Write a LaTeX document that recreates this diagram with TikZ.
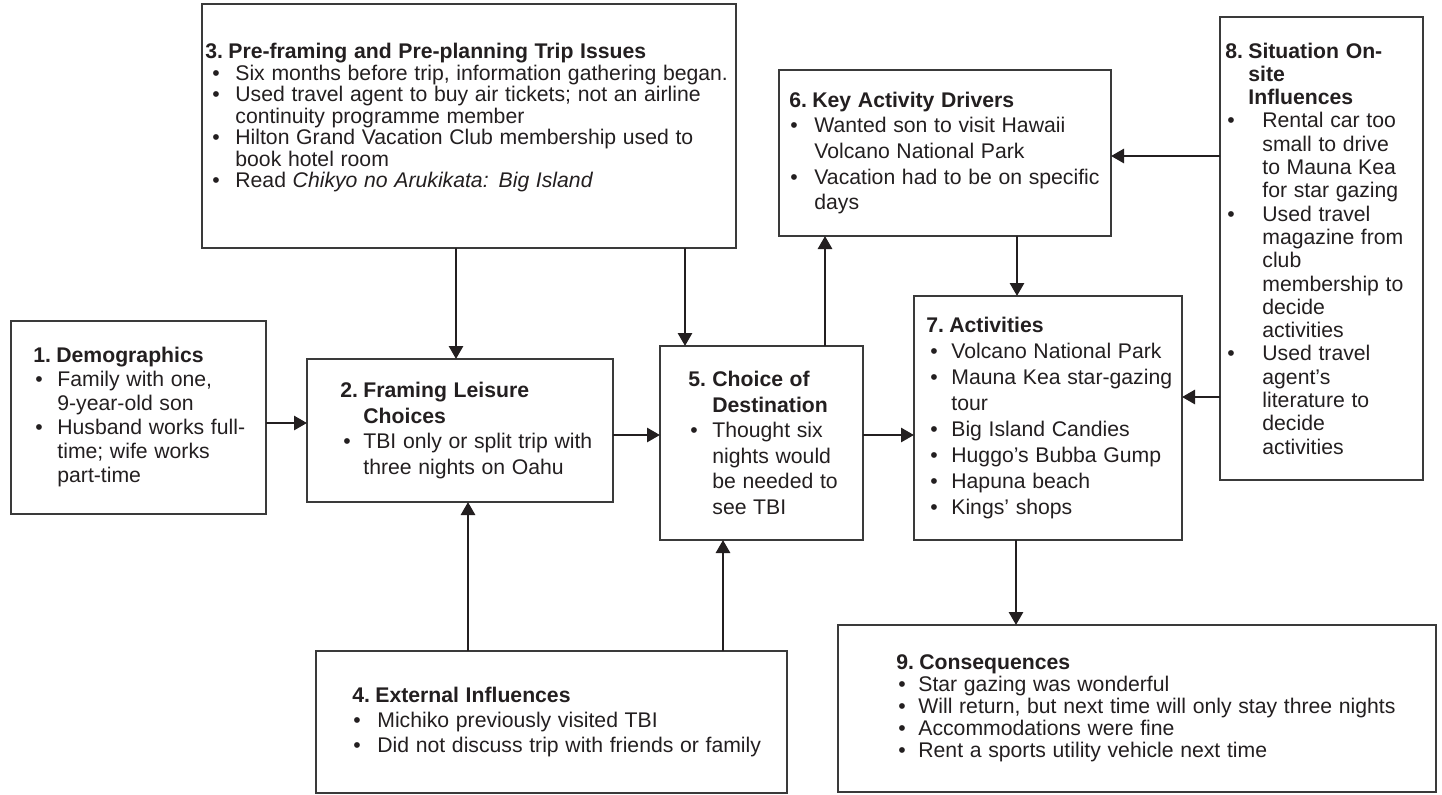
\documentclass[tikz,border=0pt]{standalone}
\usepackage{fontspec}
\setmainfont{Liberation Sans}
\usetikzlibrary{arrows.meta}

\definecolor{inkc}{HTML}{231F20}
\definecolor{framec}{HTML}{3A3A3A}

% list layout: bullet offset, text indent, title hang, line pitch
\newlength\bo \newlength\bt \newlength\ti
\newcommand\lay[4]{\setlength\bo{#1}\setlength\bt{#2}\setlength\ti{#3}\fontsize{10.6pt}{#4}\selectfont}
\newcommand\ttl[2]{\noindent\hangindent=\ti\hangafter=1\makebox[\ti][l]{\bfseries #1}{\bfseries #2}\par}
\newcommand\itm[1]{\noindent\hangindent=\bt\hangafter=1\makebox[\bt][l]{\hspace*{\bo}•}#1\par}

\begin{document}
\begin{tikzpicture}[x=0.5pt,y=-0.5pt,
  box/.style={draw=framec, line width=0.65pt, inner sep=0pt, outer sep=0pt},
  txt/.style={inner sep=0pt, text width=300pt, align=left, text=inkc, anchor=west},
  arr/.style={draw=inkc, line width=1.4pt, -{Triangle[length=6.5pt,width=7pt]}}]
\useasboundingbox[fill=white] (0,0) rectangle (1442,794);

% frames
\node[box, minimum width=127.5pt, minimum height=96.5pt]  (b1) at (138.5,417.5) {};
\node[box, minimum width=153pt,   minimum height=71.5pt]  (b2) at (460,430.5) {};
\node[box, minimum width=267pt,   minimum height=122pt]   (b3) at (469,126) {};
\node[box, minimum width=235.5pt, minimum height=71pt]    (b4) at (551.5,722) {};
\node[box, minimum width=101.5pt, minimum height=97pt]    (b5) at (761.5,443) {};
\node[box, minimum width=166pt,   minimum height=83pt]    (b6) at (945,153) {};
\node[box, minimum width=134pt,   minimum height=122pt]   (b7) at (1048,418) {};
\node[box, minimum width=101.5pt, minimum height=231.5pt] (b8) at (1321.5,248.5) {};
\node[box, minimum width=299pt,   minimum height=83.5pt]  (b9) at (1137,708.5) {};

% contents
\node[txt] (t1) at ([xshift=11pt]b1.west) {\lay{1pt}{12pt}{11.5pt}{12pt}%
  \ttl{1.}{Demographics}
  \itm{Family with one,\newline 9-year-old son}
  \itm{Husband works full-\newline time; wife works\newline part-time}};

\node[txt] (t2) at ([xshift=16.5pt]b2.west) {\lay{1.5pt}{11.5pt}{11.5pt}{12.8pt}%
  \ttl{2.}{Framing Leisure\newline Choices}
  \itm{TBI only or split trip with\newline three nights on Oahu}};

\node[txt] (t3) at ([xshift=1.5pt,yshift=4pt]b3.west) {\lay{3.5pt}{15pt}{11.5pt}{10.75pt}%
  \ttl{3.}{Pre-framing and Pre-planning Trip Issues}
  \itm{Six months before trip, information gathering began.}
  \itm{Used travel agent to buy air tickets; not an airline\newline continuity programme member}
  \itm{Hilton Grand Vacation Club membership used to\newline book hotel room}
  \itm{Read \textit{Chikyo no Arukikata: Big Island}}};

\node[txt] (t4) at ([xshift=18pt]b4.west) {\lay{0.5pt}{12.5pt}{11.5pt}{12.5pt}%
  \ttl{4.}{External Influences}
  \itm{Michiko previously visited TBI}
  \itm{Did not discuss trip with friends or family}};

\node[txt] (t5) at ([xshift=14pt]b5.west) {\lay{1pt}{12pt}{12pt}{12.8pt}%
  \ttl{5.}{Choice of\newline Destination}
  \itm{Thought six\newline nights would\newline be needed to\newline see TBI}};

\node[txt] (t6) at ([xshift=5pt]b6.west) {\lay{0.5pt}{12.5pt}{11.5pt}{12.85pt}%
  \ttl{6.}{Key Activity Drivers}
  \itm{Wanted son to visit Hawaii\newline Volcano National Park}
  \itm{Vacation had to be on specific\newline days}};

\node[txt] (t7) at ([xshift=6pt]b7.west) {\lay{2pt}{12.5pt}{11.5pt}{13pt}%
  \ttl{7.}{Activities}
  \itm{Volcano National Park}
  \itm{Mauna Kea star-gazing\newline tour}
  \itm{Big Island Candies}
  \itm{Huggo’s Bubba Gump}
  \itm{Hapuna beach}
  \itm{Kings’ shops}};

\node[txt] (t8) at ([xshift=2.5pt]b8.west) {\lay{1pt}{18.5pt}{11.5pt}{11.65pt}%
  \ttl{8.}{Situation On-\newline site\newline Influences}
  \itm{Rental car too\newline small to drive\newline to Mauna Kea\newline for star gazing}
  \itm{Used travel\newline magazine from\newline club\newline membership to\newline decide\newline activities}
  \itm{Used travel\newline agent’s\newline literature to\newline decide\newline activities}};

\node[txt] (t9) at ([xshift=29pt]b9.west) {\lay{1pt}{11pt}{11.5pt}{11pt}%
  \ttl{9.}{Consequences}
  \itm{Star gazing was wonderful}
  \itm{Will return, but next time will only stay three nights}
  \itm{Accommodations were fine}
  \itm{Rent a sports utility vehicle next time}};

% connectors
\draw[arr] ([yshift=-2.75pt]b1.east) coordinate (p12) -- (p12 -| b2.west);
\draw[arr] ([yshift=-2.25pt]b2.east) coordinate (p25) -- (p25 -| b5.west);
\draw[arr] ([yshift=4pt]b5.east) coordinate (p57) -- (p57 -| b7.west);
\draw[arr] ([xshift=-6.5pt]b3.south) coordinate (p32) -- (p32 |- b2.north);
\draw[arr] ([xshift=108pt]b3.south) coordinate (p35) -- (p35 |- b5.north);
\draw[arr] ([xshift=31.75pt]b5.north) coordinate (p56) -- (p56 |- b6.south);
\draw[arr] ([xshift=36pt]b6.south) coordinate (p67) -- (p67 |- b7.north);
\draw[arr] ([yshift=46.25pt]b8.west) coordinate (p86) -- (p86 -| b6.east);
\draw[arr] ([yshift=-74.25pt]b8.west) coordinate (p87) -- (p87 -| b7.east);
\draw[arr] ([xshift=-41.75pt]b4.north) coordinate (p42) -- (p42 |- b2.south);
\draw[arr] ([xshift=85.75pt]b4.north) coordinate (p45) -- (p45 |- b5.south);
\draw[arr] ([xshift=-16pt]b7.south) coordinate (p79) -- (p79 |- b9.north);
\end{tikzpicture}
\end{document}
